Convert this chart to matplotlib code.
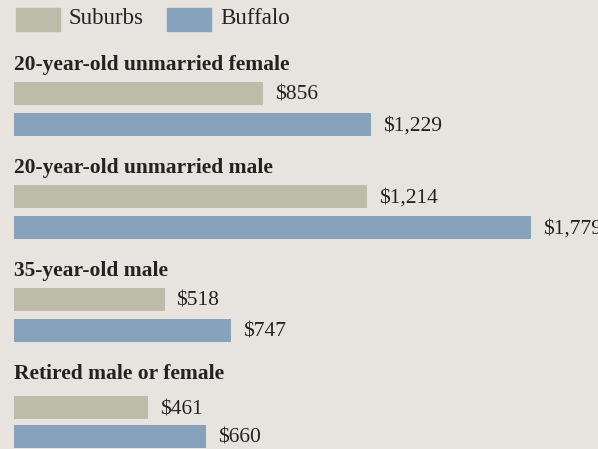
import matplotlib
matplotlib.use("Agg")
import matplotlib.pyplot as plt
from matplotlib.patches import Rectangle

groups = ["20-year-old unmarried female", "20-year-old unmarried male",
          "35-year-old male", "Retired male or female"]
suburbs = [856, 1214, 518, 461]
buffalo = [1229, 1779, 747, 660]
series_names = ["Suburbs", "Buffalo"]

BG = "#e7e4df"
C_SUB = "#bdbca8"
C_BUF = "#87a3bc"
TXT = "#222222"
SERIF = ["Liberation Serif", "DejaVu Serif"]

W, H = 598, 449
fig = plt.figure(figsize=(W / 100, H / 100), dpi=100, facecolor=BG)
ax = fig.add_axes([0, 0, 1, 1])
ax.set_facecolor(BG)
ax.axis("off")

# x: value scale, left edge of bars at 14px, 1779 ends near 531px
scale = (531 - 14) / 1779
ax.set_xlim(-14 / scale, (W - 14) / scale)
ax.set_ylim(H, 0)  # y in pixel-like units, top down

# layout (pixel rows): label centre, suburbs bar centre, buffalo bar centre
label_y = [65, 168, 271, 374]
sub_y = [93, 196, 299, 407.5]
buf_y = [124.5, 227, 330, 436.5]
bar_h = 23

ax.barh(sub_y, suburbs, height=bar_h, color=C_SUB, left=0)
ax.barh(buf_y, buffalo, height=bar_h, color=C_BUF, left=0)

for g, ly in zip(groups, label_y):
    ax.text(0, ly, g, ha="left", va="center", fontsize=15.5, fontweight="bold",
            family=SERIF, color=TXT)

pad = 12 / scale
for v, y in zip(suburbs, sub_y):
    ax.text(v + pad, y + 2, f"${v:,}", ha="left", va="center", fontsize=15.5,
            family=SERIF, color=TXT)
for v, y in zip(buffalo, buf_y):
    ax.text(v + pad, y + 2, f"${v:,}", ha="left", va="center", fontsize=15.5,
            family=SERIF, color=TXT)

# legend row
for name, col, x0 in zip(series_names, [C_SUB, C_BUF], [16, 167]):
    fig.patches.append(Rectangle((x0 / W, 1 - 31 / H), 44 / W, 23 / H,
                                 transform=fig.transFigure, color=col))
    fig.text((x0 + 53) / W, 1 - 18.5 / H, name, ha="left", va="center",
             fontsize=16.5, family=SERIF, color=TXT)

fig.savefig("out.png", dpi=100, facecolor=BG)
